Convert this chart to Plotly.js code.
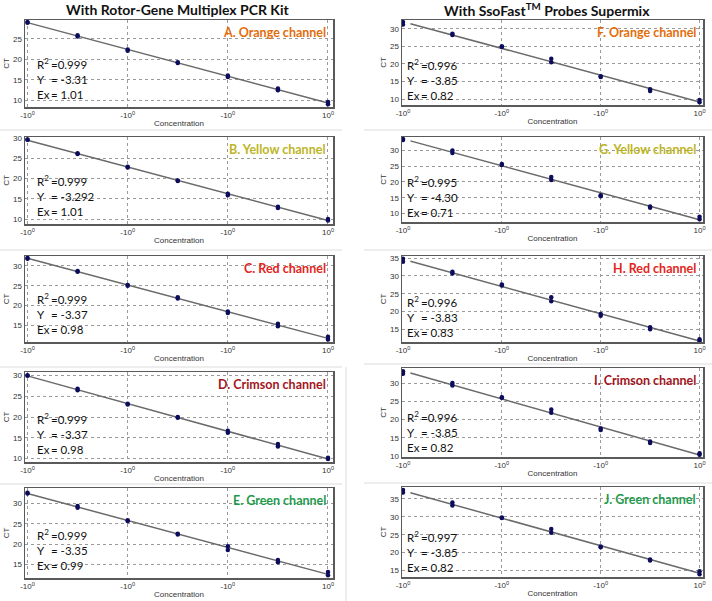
<!DOCTYPE html>
<html>
<head>
<meta charset="utf-8">
<script src="https://cdn.plot.ly/plotly-3.0.1.min.js"></script>
<style>html,body{margin:0;padding:0;background:#fff}</style>
</head>
<body>
<div id="plot" style="width:712px;height:601px"></div>
<script>
// log dilution steps and axis ticks
const dilution = [0, 1, 2, 3, 4, 5, 6];
const xTickVals = [0, 2, 4, 6];
const xTickText = ["-10<sup>0</sup>", "-10<sup>0</sup>", "-10<sup>0</sup>", "10<sup>0</sup>"];

// CT replicates per dilution, Rotor-Gene kit
const ctA = [[28.9, 29.1], [25.6, 25.9], [22.1, 22.4], [19.1, 19.3], [15.7, 16.1], [12.5, 12.9], [9.1, 9.6]];
const ctB = [[29.5, 29.6], [26.0, 26.2], [22.7, 22.9], [19.4, 19.5], [15.9, 16.3], [12.8, 13.1], [9.7, 10.1]];
const ctC = [[31.8, 32.0], [28.5, 28.7], [25.0, 25.2], [21.8, 22.1], [18.1, 18.5], [14.8, 15.4], [11.4, 12.1]];
const ctD = [[29.9, 30.0], [26.4, 26.8], [23.0, 23.2], [19.8, 20.0], [16.2, 16.7], [12.9, 13.5], [9.9, 10.2]];
const ctE = [[32.5, 32.7], [29.0, 29.4], [25.7, 25.9], [22.4, 22.6], [18.6, 19.5], [15.6, 16.1], [12.4, 13.2]];
// CT replicates per dilution, SsoFast supermix
const ctF = [[31.2, 31.9], [28.2, 28.6], [24.8, 25.0], [20.5, 21.5], [16.3, 16.5], [12.3, 12.8], [9.1, 9.7]];
const ctG = [[33.3, 33.6], [29.2, 30.0], [25.4, 25.7], [20.6, 21.6], [15.5, 15.8], [11.8, 12.2], [8.2, 9.0]];
const ctH = [[34.0, 34.8], [30.7, 31.2], [27.3, 27.6], [22.9, 24.0], [18.8, 19.3], [15.0, 15.6], [11.7, 12.2]];
const ctI = [[32.5, 33.2], [29.3, 30.0], [26.0, 26.1], [21.9, 22.8], [17.2, 17.6], [13.6, 14.0], [10.4, 10.8]];
const ctJ = [[36.8, 37.5], [33.2, 34.0], [29.7, 29.8], [25.6, 26.6], [21.5, 21.7], [17.8, 18.1], [14.0, 14.8]];

const panelNames = ["A. Orange channel", "B. Yellow channel", "C. Red channel", "D. Crimson channel", "E. Green channel",
                    "F. Orange channel", "G. Yellow channel", "H. Red channel", "I. Crimson channel", "J. Green channel"];
const r2Values = ["0.999", "0.999", "0.999", "0.999", "0.999", "0.996", "0.995", "0.996", "0.996", "0.997"];
const slopeValues = ["-3.31", "-3.292", "-3.37", "-3.37", "-3.35", "-3.85", "-4.30", "-3.83", "-3.85", "-3.85"];
const effValues = ["1.01", "1.01", "0.98", "0.98", "0.99", "0.82", "0.71", "0.83", "0.82", "0.82"];
const columnTitles = ["With Rotor-Gene Multiplex PCR Kit", "With SsoFast<sup>TM</sup> Probes Supermix"];

const allCt = [ctA, ctB, ctC, ctD, ctE, ctF, ctG, ctH, ctI, ctJ];

// styling
const W = 712, H = 601;
const channelColors = ["#e36c0a", "#bdb526", "#e32420", "#a31521", "#1f9a4c"];
const yRanges = [[8.4, 29.6], [8.85, 30.2], [10.8, 32.5], [9.2, 30.8], [11.7, 33.85],
                 [8.3, 32.5], [7.3, 34.25], [11.45, 35.6], [9.8, 34.1], [13.2, 38.35]];
const colPx = [[25, 333], [402, 703]];
const rowPx = [[20, 107], [137, 224], [256, 342], [372, 462], [488, 578],
               [20, 105], [137, 222], [256, 342], [368, 457], [487, 577]];

const traces = [];
const layout = {
  width: W, height: H,
  margin: {l: 0, r: 0, t: 0, b: 0},
  paper_bgcolor: "#fff", plot_bgcolor: "#fff",
  showlegend: false,
  font: {family: "Liberation Sans, Arial, sans-serif", color: "#333", size: 8},
  annotations: [], shapes: []
};

allCt.forEach((ct, i) => {
  const col = i < 5 ? 0 : 1;
  const suf = i === 0 ? "" : String(i + 1);
  const xs = [], ys = [];
  ct.forEach((reps, k) => reps.forEach(v => { xs.push(dilution[k]); ys.push(v); }));

  // least squares fit through the replicates
  const n = xs.length;
  const mx = xs.reduce((a, b) => a + b, 0) / n;
  const my = ys.reduce((a, b) => a + b, 0) / n;
  let sxy = 0, sxx = 0;
  xs.forEach((x, j) => { sxy += (x - mx) * (ys[j] - my); sxx += (x - mx) * (x - mx); });
  const m = sxy / sxx, b = my - m * mx;
  const x0 = col === 0 ? dilution[0] : dilution[0] + 0.15;
  const x1 = dilution[dilution.length - 1];

  traces.push({
    x: [x0, x1], y: [m * x0 + b, m * x1 + b],
    xaxis: "x" + suf, yaxis: "y" + suf,
    mode: "lines", type: "scatter",
    line: {color: "#6a6a6a", width: 1.5}, hoverinfo: "skip"
  });
  traces.push({
    x: xs, y: ys, xaxis: "x" + suf, yaxis: "y" + suf,
    mode: "markers", type: "scatter",
    marker: {color: "#0c0c5c", size: 4.5}
  });

  const xd = colPx[col], yd = rowPx[i];
  layout["xaxis" + suf] = {
    domain: [xd[0] / W, xd[1] / W],
    range: col === 0 ? [-0.05, 6.1] : [-0.02, 6.07],
    anchor: "y" + suf,
    tickvals: xTickVals, ticktext: xTickText,
    tickfont: {size: 8, color: "#333"},
    showgrid: true, gridcolor: "#9a9a9a", griddash: "dot", gridwidth: 1,
    showline: true, mirror: true, linecolor: "#5a5a5a", linewidth: 1.5,
    zeroline: false, ticks: "",
    title: {text: "Concentration", font: {size: 8, color: "#333"}, standoff: 1}
  };
  layout["yaxis" + suf] = {
    domain: [1 - yd[1] / H, 1 - yd[0] / H],
    range: yRanges[i], anchor: "x" + suf,
    dtick: 5, tickfont: {size: 8, color: "#333"},
    showgrid: true, gridcolor: "#9a9a9a", griddash: "dot", gridwidth: 1,
    showline: true, mirror: true, linecolor: "#5a5a5a", linewidth: 1.5,
    zeroline: false, ticks: "",
    title: {text: "CT", font: {size: 8, color: "#333"}, standoff: 2}
  };

  layout.annotations.push({
    xref: "x" + suf + " domain", yref: "y" + suf + " domain",
    x: 0.985, y: 0.97, xanchor: "right", yanchor: "top", showarrow: false,
    text: "<b>" + panelNames[i] + "</b>",
    font: {family: "Lato, sans-serif", size: 12.5, color: channelColors[i % 5]}
  });
  const shift = col === 0 ? 10 : 3;
  const lift = col === 0 ? 4 : 1;
  layout.annotations.push({
    xref: "x" + suf + " domain", yref: "y" + suf + " domain",
    x: 0, y: 0, xanchor: "left", yanchor: "bottom", xshift: shift, yshift: lift,
    align: "left", showarrow: false,
    text: "R<sup>2</sup><br>Y<br>Ex",
    font: {family: "Lato, sans-serif", size: 11.5, color: "#111"}
  });
  layout.annotations.push({
    xref: "x" + suf + " domain", yref: "y" + suf + " domain",
    x: 0, y: 0, xanchor: "left", yanchor: "bottom", xshift: shift + 14, yshift: lift,
    align: "left", showarrow: false,
    text: "=" + r2Values[i] + "<br>= " + slopeValues[i] + "<br>= " + effValues[i],
    font: {family: "Lato, sans-serif", size: 11.5, color: "#111"}
  });
});

// column headings
[[177, 10], [547, 10]].forEach((p, c) => {
  layout.annotations.push({
    xref: "paper", yref: "paper", x: p[0] / W, y: 1 - p[1] / H,
    xanchor: "center", yanchor: "middle", showarrow: false,
    text: "<b>" + columnTitles[c] + "</b>",
    font: {family: "Lato, sans-serif", size: 14, color: "#111"}
  });
});

// faint borders left over from the pasted screenshots
const sep = (x0, y0, x1, y1) => layout.shapes.push({
  type: "line", xref: "paper", yref: "paper",
  x0: x0 / W, x1: x1 / W, y0: 1 - y0 / H, y1: 1 - y1 / H,
  line: {color: "#dcdcdc", width: 1}
});
[130, 250, 367, 484].forEach(y => sep(0, y, 342, y));
[130, 250, 364, 483].forEach(y => sep(364, y, 712, y));
sep(346, 367, 346, 601);

Plotly.newPlot("plot", traces, layout, {staticPlot: true});
</script>
</body>
</html>
